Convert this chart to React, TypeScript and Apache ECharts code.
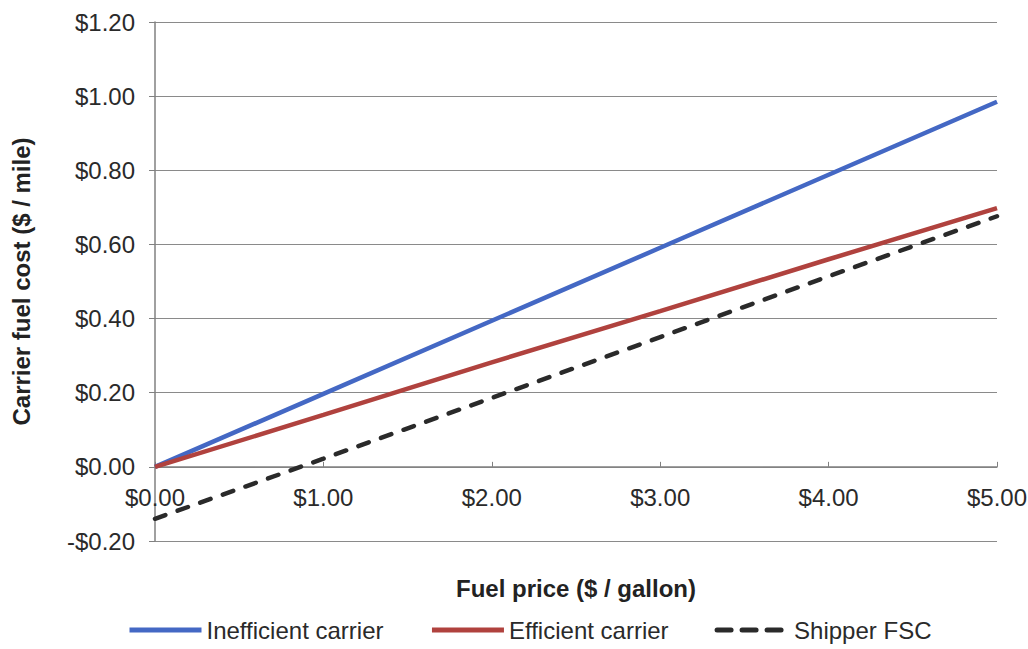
import React, { useEffect, useRef } from "react";
import * as echarts from "echarts";

const seriesNames = ["Inefficient carrier", "Efficient carrier", "Shipper FSC"];
const inefficient: [number, number][] = [[0, 0], [1, 0.197], [2, 0.394], [3, 0.591], [4, 0.788], [5, 0.985]];
const efficient: [number, number][] = [[0, 0], [1, 0.14], [2, 0.282], [3, 0.42], [4, 0.56], [5, 0.698]];
const shipper: [number, number][] = [[0, -0.14], [1, 0.022], [2, 0.186], [3, 0.35], [4, 0.514], [5, 0.676]];
const colors = ["#4468c4", "#b0423e", "#2a2a2a"];

const money = (v: number) => (v < 0 ? "-$" : "$") + Math.abs(v).toFixed(2);
const FONT = "Liberation Sans, Arial, sans-serif";

export default function App() {
  const ref = useRef<HTMLDivElement>(null);
  useEffect(() => {
    document.body.style.margin = "0";
    const chart = echarts.init(ref.current!, null, { renderer: "svg" });
    chart.setOption({
      animation: false,
      textStyle: { fontFamily: FONT },
      grid: { left: 155, right: 31, top: 22, bottom: 108, containLabel: false, outerBoundsMode: "none" },
      xAxis: {
        type: "value",
        min: 0,
        max: 5,
        interval: 1,
        name: "Fuel price ($ / gallon)",
        nameLocation: "middle",
        nameGap: 35,
        nameMoveOverlap: false,
        nameTextStyle: { fontSize: 24, fontWeight: "bold", color: "#222", fontFamily: FONT },
        axisLine: { show: true, onZero: true, onZeroAxisIndex: 0, lineStyle: { color: "#808080", width: 1.5 } },
        axisTick: { show: true, inside: true, length: 5, lineStyle: { color: "#808080" } },
        axisLabel: { formatter: money, fontSize: 24, color: "#2a2a2a", margin: -56, fontFamily: FONT },
        splitLine: { show: false },
      },
      yAxis: {
        type: "value",
        min: -0.2,
        max: 1.2,
        interval: 0.2,
        name: "Carrier fuel cost ($ / mile)",
        nameLocation: "middle",
        nameRotate: 90,
        nameGap: 122,
        nameMoveOverlap: false,
        nameTextStyle: { fontSize: 24, fontWeight: "bold", color: "#222", fontFamily: FONT },
        axisLine: { show: true, onZero: false, lineStyle: { color: "#808080", width: 1.5 } },
        axisTick: { show: true, inside: false, length: 6, lineStyle: { color: "#808080" } },
        axisLabel: { formatter: money, fontSize: 24, color: "#2a2a2a", margin: 20, fontFamily: FONT },
        splitLine: { show: true, lineStyle: { color: "#8a8a8a", width: 1.2 } },
      },
      legend: {
        top: 613,
        left: 122,
        itemWidth: 72,
        itemHeight: 10,
        itemGap: 46,
        textStyle: { fontSize: 24, color: "#2a2a2a", fontFamily: FONT },
        itemStyle: { opacity: 0 },
        lineStyle: { width: 5 },
        data: [
          { name: seriesNames[0] },
          { name: seriesNames[1] },
          { name: seriesNames[2], lineStyle: { width: 5, type: [14, 11], cap: "round" } },
        ],
      },
      series: [
        { name: seriesNames[0], type: "line", data: inefficient, symbol: "none", color: colors[0], lineStyle: { width: 4.5, color: colors[0] } },
        { name: seriesNames[1], type: "line", data: efficient, symbol: "none", color: colors[1], lineStyle: { width: 4.5, color: colors[1] } },
        { name: seriesNames[2], type: "line", data: shipper, symbol: "none", color: colors[2], lineStyle: { width: 4.5, color: colors[2], type: [11, 13], cap: "round" } },
      ],
    });
    return () => chart.dispose();
  }, []);
  return <div ref={ref} style={{ width: 1028, height: 649 }} />;
}
